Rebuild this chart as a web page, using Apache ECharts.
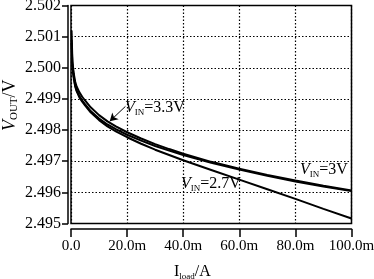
<!DOCTYPE html>
<html><head><meta charset="utf-8">
<script src="https://cdn.jsdelivr.net/npm/echarts@6/dist/echarts.min.js"></script>
<style>html,body{margin:0;padding:0;background:#fff}#c{width:374px;height:279px}</style>
</head><body><div id="c"></div>
<script>
const loadMA = [0.2, 0.5, 1, 1.5, 2, 3, 4, 5, 7, 10, 13, 16, 20, 25, 30, 35, 40, 50, 60, 70, 80, 90, 100];
const vin33 = [2.5012, 2.5002, 2.4998, 2.49955, 2.4994, 2.49921, 2.49907, 2.49895, 2.49873, 2.49848, 2.49828, 2.49812, 2.49793, 2.49773, 2.49755, 2.49739, 2.49724, 2.49698, 2.49676, 2.49656, 2.49638, 2.49621, 2.49606];
const vin30 = [2.5009, 2.5001, 2.4997, 2.49943, 2.49928, 2.49909, 2.49895, 2.49883, 2.49861, 2.49837, 2.49818, 2.49803, 2.49785, 2.49766, 2.49749, 2.49734, 2.4972, 2.49695, 2.49673, 2.49653, 2.49635, 2.49619, 2.49604];
const vin27 = [2.5008, 2.5000, 2.49965, 2.4994, 2.49925, 2.49905, 2.49891, 2.49879, 2.49857, 2.49832, 2.49812, 2.49796, 2.49777, 2.49756, 2.49737, 2.4972, 2.49703, 2.49672, 2.49641, 2.4961, 2.49579, 2.49547, 2.49516];
const xTicks = [0, 20, 40, 60, 80, 100];
const yTicks = [2.495, 2.496, 2.497, 2.498, 2.499, 2.500, 2.501, 2.502];
const arrowFrom = [19.4, 2.49876];
const arrowTo = [13.8, 2.49828];

const serif = '"Liberation Serif","DejaVu Serif",serif';
const pair = a => loadMA.map((x, i) => [x, a[i]]);
const lineSeries = (name, arr) => ({
  name, type: 'line', data: pair(arr), showSymbol: false, smooth: false,
  xAxisIndex: 0, yAxisIndex: 0,
  lineStyle: {color: '#000', width: 2}, animation: false
});
const richLbl = {
  v: {fontFamily: serif, fontStyle: 'italic', fontSize: 16, color: '#000', lineHeight: 18},
  s: {fontFamily: serif, fontSize: 9, color: '#000', verticalAlign: 'bottom', lineHeight: 18, padding: [9, 0, 0, 0]},
  t: {fontFamily: serif, fontSize: 16, color: '#000', lineHeight: 18}
};
const richName = {
  v: {fontFamily: serif, fontStyle: 'italic', fontSize: 18, color: '#000', lineHeight: 20},
  s: {fontFamily: serif, fontSize: 11, color: '#000', verticalAlign: 'bottom', lineHeight: 20, padding: [9, 0, 0, 0]},
  t: {fontFamily: serif, fontSize: 18, color: '#000', lineHeight: 20}
};
const blk = {color: '#000', width: 1.5};
const dotted = {show: true, lineStyle: {color: '#000', width: 1.2, type: [1.5, 2]}};
const xRange = {type: 'value', min: 0, max: 100, interval: 20};
const yRange = {type: 'value', min: 2.495, max: 2.502, interval: 0.001};
const hidden = {axisLine: {show: false}, axisTick: {show: false}, axisLabel: {show: false}, splitLine: {show: false}};
const gridBase = {containLabel: false, outerBoundsMode: 'none'};
const chart = echarts.init(document.getElementById('c'));
const s33 = lineSeries('3.3V', vin33);
s33.markLine = {
  silent: true, animation: false, label: {show: false},
  lineStyle: {color: '#000', width: 1, type: 'solid'},
  symbolSize: [7, 8],
  data: [[{coord: arrowFrom, symbol: 'none'}, {coord: arrowTo, symbol: 'arrow'}]]
};
chart.setOption({
  animation: false,
  grid: [
    Object.assign({left: 71, right: 22.5, top: 5.5, bottom: 55.5, show: true, borderColor: '#000', borderWidth: 1.5}, gridBase),
    Object.assign({left: 71, right: 22.5, top: 5.5, bottom: 50}, gridBase),
    Object.assign({left: 68, right: 22.5, top: 5.5, bottom: 55.5}, gridBase)
  ],
  xAxis: [
    Object.assign({gridIndex: 0}, xRange, hidden, {splitLine: dotted}),
    Object.assign({gridIndex: 1}, xRange, {
      axisLine: {show: true, onZero: false, lineStyle: blk},
      axisTick: {show: true, length: 8, lineStyle: blk},
      axisLabel: {color: '#000', fontFamily: serif, fontSize: 15, margin: 10,
        formatter: v => xTicks.includes(v) ? (v === 0 ? '0.0' : v.toFixed(1) + 'm') : ''},
      splitLine: {show: false}
    }),
    Object.assign({gridIndex: 2}, xRange, hidden)
  ],
  yAxis: [
    Object.assign({gridIndex: 0}, yRange, hidden, {splitLine: dotted}),
    Object.assign({gridIndex: 1}, yRange, hidden),
    Object.assign({gridIndex: 2}, yRange, {
      axisLine: {show: true, onZero: false, lineStyle: blk},
      axisTick: {show: true, length: 6, lineStyle: blk},
      axisLabel: {color: '#000', fontFamily: serif, fontSize: 16, margin: 7,
        formatter: v => { const t = yTicks.find(k => Math.abs(k - v) < 1e-7); return t === undefined ? '' : t.toFixed(3); }},
      splitLine: {show: false}
    })
  ],
  series: [s33, lineSeries('3V', vin30), lineSeries('2.7V', vin27)],
  graphic: [
    {type: 'text', left: 125, top: 99, style: {text: '{v|V}{s|IN}{t|=3.3V}', rich: richLbl}},
    {type: 'text', left: 300, top: 161, style: {text: '{v|V}{s|IN}{t|=3V}', rich: richLbl}},
    {type: 'text', left: 181, top: 175, style: {text: '{v|V}{s|IN}{t|=2.7V}', rich: richLbl}},
    {type: 'text', x: 174, y: 263, style: {text: '{t|I}{s|load}{t|/A}', rich: richLbl}},
    {type: 'text', x: 0, y: 131, rotation: Math.PI / 2, style: {text: '{v|V}{s|OUT}{t|/V}', rich: richName}}
  ]
});
</script></body></html>
